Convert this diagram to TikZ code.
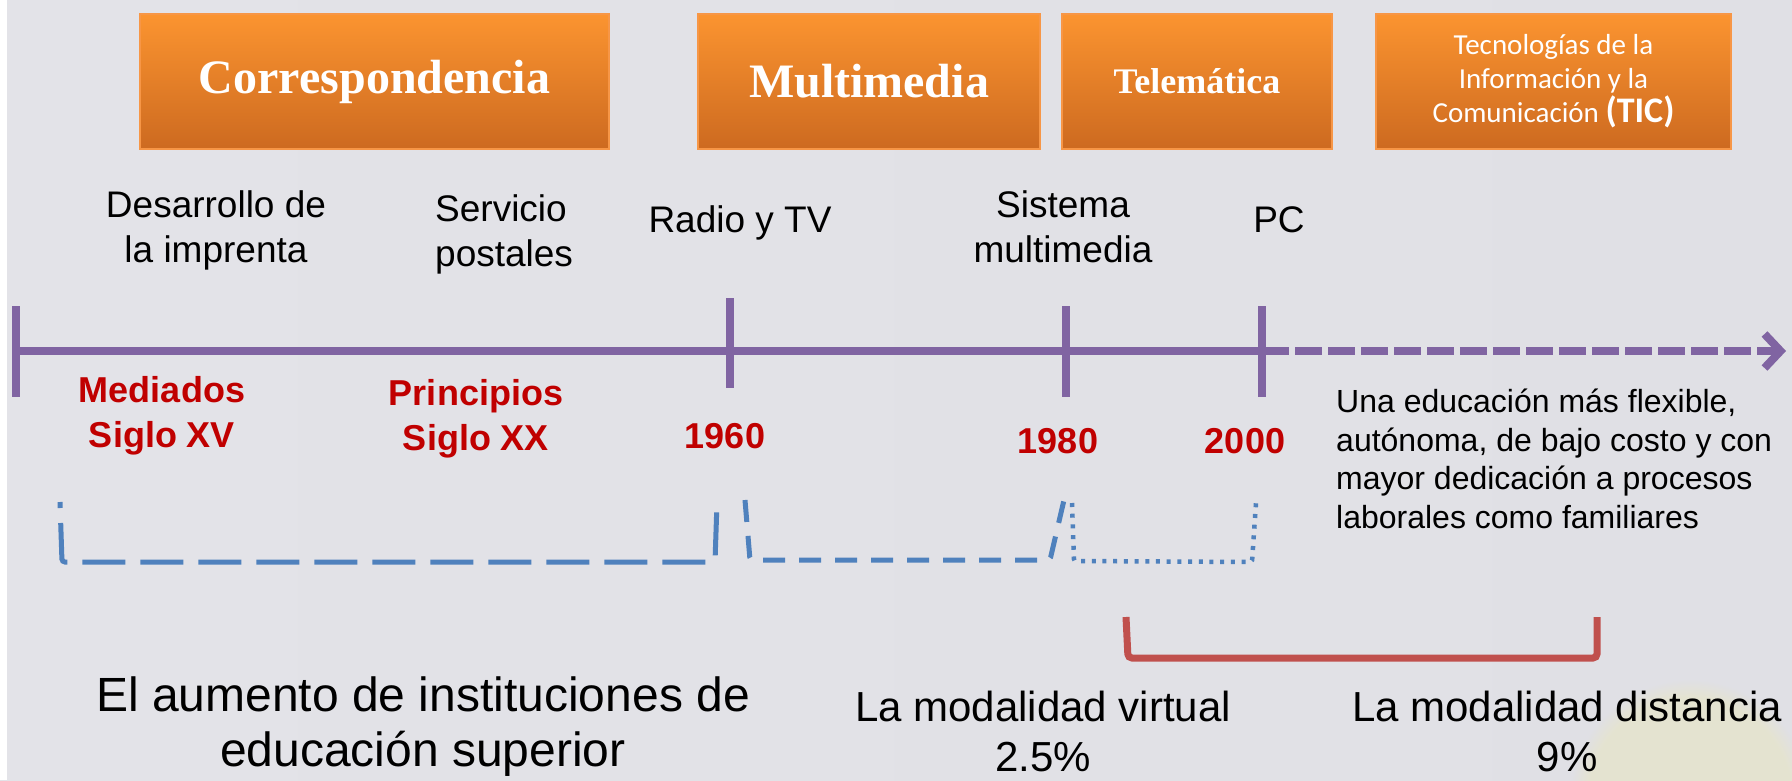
\documentclass[tikz,border=0pt]{standalone}
\usepackage{fontspec}
\setmainfont{Liberation Sans}
\newfontfamily\tnrfont{Liberation Serif}
\newfontfamily\calfont{Carlito}
\usetikzlibrary{arrows.meta,fadings}
\definecolor{bgL}{RGB}{227,227,232}
\definecolor{bgM}{RGB}{246,246,248}
\definecolor{bgR}{RGB}{224,224,229}
\definecolor{oTop}{RGB}{251,148,48}
\definecolor{oBot}{RGB}{205,106,32}
\definecolor{oEdge}{RGB}{247,150,70}
\definecolor{tlPurple}{RGB}{128,100,162}
\definecolor{brBlue}{RGB}{79,129,189}
\definecolor{brRed}{RGB}{192,80,77}
\definecolor{yrRed}{RGB}{192,0,0}
\begin{document}
\begin{tikzpicture}[x=1pt,y=-1pt,
  obox/.style={draw=oEdge, line width=2pt, top color=oTop, bottom color=oBot,
    minimum height=135pt, inner sep=0pt, text=white, align=center,
    font=\tnrfont\bfseries\fontsize{48}{56}\selectfont},
  tl/.style={draw=tlPurple, line width=8pt},
  lbl/.style={inner sep=0pt, font=\fontsize{37}{45}\selectfont},
  yr/.style={inner sep=0pt, text=yrRed, font=\bfseries\fontsize{36}{45}\selectfont},
  brk/.style={draw=brBlue, line width=5pt, rounded corners=3pt},
  big/.style={inner sep=0pt, align=center, font=\fontsize{48}{55}\selectfont},
  mid/.style={inner sep=0pt, align=center, font=\fontsize{42}{50}\selectfont}
]
\useasboundingbox (0,0) rectangle (1792,780);
% background
\shade[left color=bgL, middle color=bgM, right color=bgR] (0,0) rectangle (1792,780);
\fill[white] (0,0) rectangle (7,780);
\begin{scope}
  \clip (0,0) rectangle (1792,780);
  \fill[yellow!60!white, opacity=0.16, path fading=circle with fuzzy edge 15 percent]
    (1690,800) circle[radius=120pt];
\end{scope}

% orange boxes
\node[obox, minimum width=469pt] (corr) at (374.5,81.5) {Correspondencia};
\node[obox, minimum width=342pt] (multi) at (869,81.5) {Multimedia};
\node[obox, minimum width=270pt, font=\tnrfont\bfseries\fontsize{36}{42}\selectfont] (tele) at (1197,81.5) {Telemática};
\node[obox, minimum width=355pt, font=\calfont\fontsize{29}{34}\selectfont] (tic) at (1553.5,81.5)
  {Tecnologías de la\\Información y la\\Comunicación {\bfseries\fontsize{36}{34}\selectfont(TIC)}};

% top labels (base anchor = baseline of last line)
\node[lbl, align=center, anchor=base] (imp) at (216,262) {Desarrollo de\\la imprenta};
\node[lbl, align=left, anchor=base west] (post) at (435,266) {Servicio\\postales};
\node[lbl, anchor=base] (radio) at (740,232) {Radio y TV};
\node[lbl, align=center, anchor=base] (sist) at (1063,262) {Sistema\\multimedia};
\node[lbl, anchor=base] (pc) at (1279,232) {PC};

% timeline
\coordinate (t0) at (16,351);
\coordinate (t2000) at (1262,351);
\coordinate (tend) at (1786,351);
\draw[tl] (t0) -- (t2000);
\draw[tl, dash pattern=on 27pt off 6pt, -{Straight Barb[length=16pt,width=34pt]}] (t2000) -- (tend);
\draw[tl] (16,306) -- (16,397);
\draw[tl] (730,298) -- (730,388);
\draw[tl] (1066,306) -- (1066,397);
\draw[tl] (1262,306) -- (1262,397);

% red labels
\node[yr, align=center, anchor=base] (med) at (162,447) {Mediados\\Siglo XV};
\node[yr, align=center, anchor=base] (prin) at (476,450) {Principios\\Siglo XX};
\node[yr, anchor=base] (y60) at (725,448) {1960};
\node[yr, anchor=base] (y80) at (1058,453) {1980};
\node[yr, anchor=base] (y00) at (1245,453) {2000};

% paragraph
\node[inner sep=0pt, align=left, anchor=base west, font=\fontsize{32}{38.5}\selectfont] (para) at (1336,528)
  {Una educación más flexible,\\autónoma, de bajo costo y con\\mayor dedicación a procesos\\laborales como familiares};

% blue brackets
\draw[brk, dash pattern=on 43pt off 15pt, dash phase=37pt] (60,502) -- (62,562) -- (715,562) -- (717,502);
\draw[brk, dash pattern=on 22pt off 14pt] (745,500) -- (750,560) -- (1050,560) -- (1064,500);
\draw[brk, line width=4.5pt, rounded corners=2pt, dash pattern=on 4pt off 6.7pt] (1072,503) -- (1074,561) -- (1252,562) -- (1256,503);

% red bracket
\draw[draw=brRed, line width=7pt, rounded corners=4pt] (1126,617) -- (1128,658) -- (1597,658) -- (1597,617);

% bottom texts
\node[big, anchor=base] (aum) at (423,766) {El aumento de instituciones de\\educación superior};
\node[mid, anchor=base] (virt) at (1043,771) {La modalidad virtual\\2.5\%};
\node[mid, anchor=base] (dist) at (1567,771) {La modalidad distancia\\9\%};
\end{tikzpicture}
\end{document}
